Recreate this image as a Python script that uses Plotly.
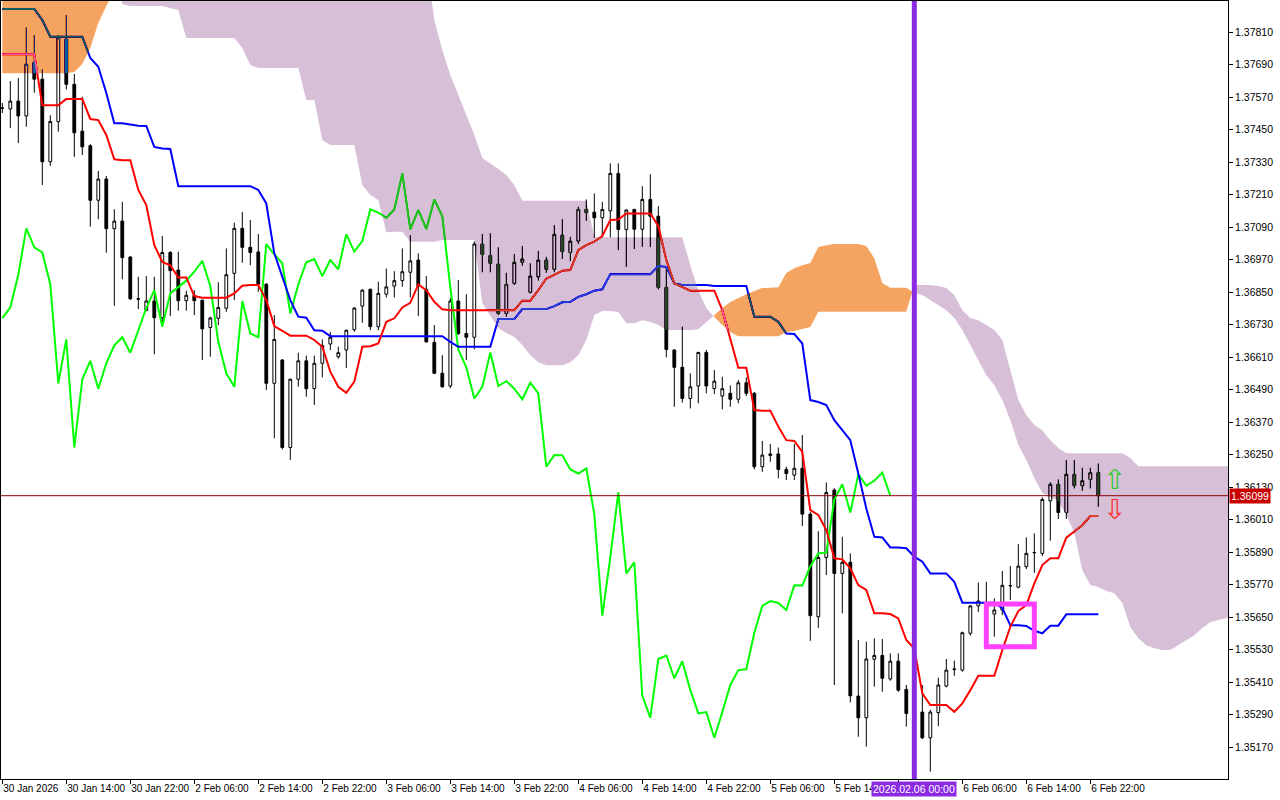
import plotly.graph_objects as go

# ---------------- data (H1 bars, 30 Jan 06:00 .. 6 Feb 23:00) ----------------
tick_pos = [0, 8, 16, 24, 32, 40, 48, 56, 64, 72, 80, 88, 96, 104, 112, 120, 128, 136]
tick_labels = ["30 Jan 2026", "30 Jan 14:00", "30 Jan 22:00", "2 Feb 06:00", "2 Feb 14:00",
               "2 Feb 22:00", "3 Feb 06:00", "3 Feb 14:00", "3 Feb 22:00", "4 Feb 06:00",
               "4 Feb 14:00", "4 Feb 22:00", "5 Feb 06:00", "5 Feb 14:00", "",
               "6 Feb 06:00", "6 Feb 14:00", "6 Feb 22:00"]
marker_bar = 114
marker_label = "2026.02.06 00:00"

price_ticks = [1.37810, 1.37690, 1.37570, 1.37450, 1.37330, 1.37210, 1.37090, 1.36970,
               1.36850, 1.36730, 1.36610, 1.36490, 1.36370, 1.36250, 1.36130, 1.36010,
               1.35890, 1.35770, 1.35650, 1.35530, 1.35410, 1.35290, 1.35170]

open_ = [1.37530, 1.37527, 1.37556, 1.37501, 1.37699, 1.37637, 1.37332, 1.37480, 1.37785, 1.37618,
         1.37445, 1.37391, 1.37190, 1.37268, 1.37085, 1.37113, 1.36980, 1.36826, 1.36783, 1.36818,
         1.36756, 1.36997, 1.36932, 1.36819, 1.36839, 1.36821, 1.36720, 1.36754, 1.36791, 1.36920,
         1.37086, 1.37016, 1.36999, 1.36880, 1.36514, 1.36600, 1.36277, 1.36529, 1.36597, 1.36495,
         1.36588, 1.36659, 1.36612, 1.36637, 1.36712, 1.36799, 1.36861, 1.36723, 1.36843, 1.36873,
         1.36893, 1.36924, 1.36969, 1.36861, 1.36665, 1.36551, 1.36504, 1.36818, 1.36698, 1.36684,
         1.37028, 1.36986, 1.36954, 1.36772, 1.36883, 1.36961, 1.36850, 1.36907, 1.36969, 1.36935,
         1.37061, 1.36997, 1.37039, 1.37156, 1.37146, 1.37125, 1.37151, 1.37289, 1.37082, 1.37156,
         1.37083, 1.37193, 1.37131, 1.36868, 1.36637, 1.36573, 1.36458, 1.36504, 1.36628, 1.36495,
         1.36467, 1.36477, 1.36455, 1.36516, 1.36477, 1.36206, 1.36253, 1.36253, 1.36196, 1.36175,
         1.36200, 1.36031, 1.35652, 1.35871, 1.36120, 1.35812, 1.35853, 1.35359, 1.35279, 1.35495,
         1.35509, 1.35422, 1.35488, 1.35384, 1.35295, 1.35300, 1.35205, 1.35298, 1.35396, 1.35459,
         1.35455, 1.35591, 1.35692, 1.35701, 1.35662, 1.35677, 1.35766, 1.35761, 1.35837, 1.35888,
         1.35886, 1.36080, 1.36141, 1.36037, 1.36178, 1.36136, 1.36159, 1.36184]

high = [1.37549, 1.37630, 1.37641, 1.37828, 1.37800, 1.37673, 1.37504, 1.37800, 1.37874, 1.37656,
        1.37572, 1.37397, 1.37298, 1.37279, 1.37157, 1.37184, 1.36984, 1.36907, 1.36910, 1.36907,
        1.37058, 1.37002, 1.37000, 1.36856, 1.36858, 1.36822, 1.36760, 1.36887, 1.37012, 1.37107,
        1.37147, 1.37117, 1.37065, 1.36884, 1.36766, 1.36603, 1.36531, 1.36627, 1.36616, 1.36616,
        1.36676, 1.36704, 1.36649, 1.36712, 1.36795, 1.36861, 1.36864, 1.36889, 1.36938, 1.36928,
        1.37012, 1.37061, 1.36994, 1.36910, 1.36729, 1.36618, 1.36829, 1.36895, 1.36843, 1.37037,
        1.37065, 1.37068, 1.37016, 1.36922, 1.36991, 1.37021, 1.36957, 1.37003, 1.36981, 1.37098,
        1.37120, 1.37055, 1.37166, 1.37193, 1.37215, 1.37184, 1.37326, 1.37326, 1.37156, 1.37158,
        1.37242, 1.37286, 1.37168, 1.36944, 1.36639, 1.36723, 1.36551, 1.36630, 1.36637, 1.36563,
        1.36538, 1.36506, 1.36526, 1.36536, 1.36482, 1.36301, 1.36290, 1.36277, 1.36206, 1.36290,
        1.36323, 1.36039, 1.35968, 1.36148, 1.36127, 1.35947, 1.35886, 1.35566, 1.35560, 1.35572,
        1.35570, 1.35517, 1.35517, 1.35400, 1.35344, 1.35400, 1.35308, 1.35427, 1.35496, 1.35490,
        1.35597, 1.35695, 1.35778, 1.35781, 1.35720, 1.35821, 1.35839, 1.35920, 1.35945, 1.35960,
        1.36093, 1.36148, 1.36159, 1.36231, 1.36231, 1.36202, 1.36202, 1.36218]

low = [1.37512, 1.37456, 1.37401, 1.37461, 1.37587, 1.37246, 1.37317, 1.37443, 1.37599, 1.37350,
       1.37357, 1.37092, 1.37120, 1.36996, 1.36800, 1.36898, 1.36822, 1.36788, 1.36780, 1.36621,
       1.36729, 1.36762, 1.36782, 1.36782, 1.36766, 1.36600, 1.36612, 1.36729, 1.36778, 1.36821,
       1.36959, 1.36950, 1.36852, 1.36489, 1.36311, 1.36270, 1.36231, 1.36501, 1.36464, 1.36434,
       1.36536, 1.36637, 1.36605, 1.36571, 1.36704, 1.36737, 1.36710, 1.36710, 1.36831, 1.36831,
       1.36870, 1.36831, 1.36762, 1.36664, 1.36548, 1.36498, 1.36496, 1.36692, 1.36600, 1.36639,
       1.36924, 1.36924, 1.36766, 1.36760, 1.36877, 1.36948, 1.36846, 1.36893, 1.36922, 1.36924,
       1.36973, 1.36965, 1.37028, 1.37114, 1.37051, 1.37053, 1.37053, 1.37006, 1.36944, 1.37010,
       1.37018, 1.37017, 1.36861, 1.36610, 1.36427, 1.36442, 1.36421, 1.36440, 1.36477, 1.36474,
       1.36418, 1.36427, 1.36440, 1.36467, 1.36196, 1.36187, 1.36224, 1.36163, 1.36157, 1.36157,
       1.35987, 1.35563, 1.35611, 1.35806, 1.35400, 1.35665, 1.35336, 1.35209, 1.35172, 1.35394,
       1.35375, 1.35416, 1.35375, 1.35246, 1.35241, 1.35200, 1.35080, 1.35248, 1.35391, 1.35434,
       1.35449, 1.35582, 1.35670, 1.35692, 1.35578, 1.35658, 1.35714, 1.35757, 1.35828, 1.35814,
       1.35876, 1.35933, 1.36013, 1.36013, 1.36126, 1.36117, 1.36126, 1.36058]

close = [1.37530, 1.37556, 1.37501, 1.37692, 1.37637, 1.37332, 1.37481, 1.37790, 1.37618, 1.37439,
         1.37387, 1.37190, 1.37268, 1.37085, 1.37113, 1.36978, 1.36826, 1.36825, 1.36818, 1.36756,
         1.36997, 1.36930, 1.36819, 1.36839, 1.36819, 1.36715, 1.36755, 1.36794, 1.36915, 1.37086,
         1.37016, 1.36997, 1.36880, 1.36514, 1.36676, 1.36277, 1.36529, 1.36597, 1.36494, 1.36588,
         1.36654, 1.36684, 1.36627, 1.36710, 1.36792, 1.36858, 1.36723, 1.36846, 1.36870, 1.36893,
         1.36926, 1.36966, 1.36873, 1.36667, 1.36551, 1.36501, 1.36818, 1.36698, 1.36684, 1.37028,
         1.36990, 1.36957, 1.36772, 1.36879, 1.36961, 1.36973, 1.36910, 1.36969, 1.36935, 1.37064,
         1.37000, 1.37039, 1.37156, 1.37144, 1.37125, 1.37156, 1.37289, 1.37082, 1.37154, 1.37083,
         1.37193, 1.37131, 1.36868, 1.36639, 1.36573, 1.36458, 1.36501, 1.36628, 1.36504, 1.36522,
         1.36494, 1.36455, 1.36516, 1.36477, 1.36206, 1.36249, 1.36248, 1.36196, 1.36181, 1.36200,
         1.36031, 1.35656, 1.35871, 1.36111, 1.35812, 1.35853, 1.35360, 1.35279, 1.35496, 1.35509,
         1.35425, 1.35488, 1.35381, 1.35295, 1.35300, 1.35205, 1.35300, 1.35400, 1.35455, 1.35458,
         1.35593, 1.35692, 1.35710, 1.35703, 1.35677, 1.35768, 1.35767, 1.35839, 1.35886, 1.35889,
         1.36085, 1.36141, 1.36037, 1.36178, 1.36136, 1.36154, 1.36184, 1.36099]

tenkan = [1.37729, 1.37729, 1.37729, 1.37729, 1.37729, 1.37541, 1.37541, 1.37541, 1.37564, 1.37564,
          1.37564, 1.37490, 1.37486, 1.37431, 1.37341, 1.37338, 1.37338, 1.37228, 1.37172, 1.37024,
          1.36962, 1.36950, 1.36905, 1.36905, 1.36836, 1.36830, 1.36830, 1.36830, 1.36830, 1.36846,
          1.36874, 1.36877, 1.36877, 1.36821, 1.36725, 1.36708, 1.36690, 1.36690, 1.36690, 1.36674,
          1.36649, 1.36557, 1.36501, 1.36479, 1.36520, 1.36649, 1.36651, 1.36661, 1.36741, 1.36754,
          1.36794, 1.36811, 1.36879, 1.36858, 1.36815, 1.36787, 1.36784, 1.36784, 1.36784, 1.36784,
          1.36784, 1.36784, 1.36784, 1.36784, 1.36784, 1.36819, 1.36819, 1.36858, 1.36901, 1.36914,
          1.36930, 1.36932, 1.37006, 1.37024, 1.37037, 1.37058, 1.37117, 1.37119, 1.37141, 1.37141,
          1.37141, 1.37141, 1.37095, 1.36969, 1.36883, 1.36870, 1.36856, 1.36856, 1.36856, 1.36856,
          1.36784, 1.36674, 1.36571, 1.36571, 1.36415, 1.36413, 1.36413, 1.36354, 1.36304, 1.36301,
          1.36261, 1.36046, 1.36028, 1.35972, 1.35868, 1.35864, 1.35831, 1.35769, 1.35751, 1.35665,
          1.35665, 1.35662, 1.35646, 1.35566, 1.35535, 1.35369, 1.35326, 1.35326, 1.35326, 1.35301,
          1.35332, 1.35381, 1.35434, 1.35434, 1.35434, 1.35529, 1.35615, 1.35673, 1.35695, 1.35775,
          1.35843, 1.35868, 1.35868, 1.35944, 1.35966, 1.35990, 1.36024, 1.36024]

kijun = [1.37896, 1.37896, 1.37896, 1.37896, 1.37896, 1.37855, 1.37794, 1.37794, 1.37794, 1.37794,
         1.37794, 1.37715, 1.37683, 1.37586, 1.37474, 1.37474, 1.37470, 1.37465, 1.37464, 1.37387,
         1.37381, 1.37379, 1.37242, 1.37242, 1.37242, 1.37242, 1.37242, 1.37242, 1.37242, 1.37242,
         1.37242, 1.37242, 1.37228, 1.37178, 1.36994, 1.36907, 1.36821, 1.36760, 1.36756, 1.36710,
         1.36708, 1.36688, 1.36688, 1.36688, 1.36688, 1.36688, 1.36688, 1.36688, 1.36688, 1.36688,
         1.36688, 1.36688, 1.36688, 1.36688, 1.36688, 1.36688, 1.36667, 1.36649, 1.36649, 1.36649,
         1.36649, 1.36649, 1.36751, 1.36751, 1.36751, 1.36788, 1.36788, 1.36788, 1.36788, 1.36799,
         1.36813, 1.36815, 1.36833, 1.36843, 1.36856, 1.36861, 1.36917, 1.36917, 1.36917, 1.36917,
         1.36917, 1.36917, 1.36947, 1.36944, 1.36883, 1.36877, 1.36877, 1.36877, 1.36877, 1.36873,
         1.36873, 1.36873, 1.36873, 1.36873, 1.36760, 1.36760, 1.36760, 1.36741, 1.36698, 1.36696,
         1.36661, 1.36452, 1.36445, 1.36434, 1.36378, 1.36341, 1.36304, 1.36181, 1.36052, 1.35947,
         1.35945, 1.35908, 1.35908, 1.35905, 1.35874, 1.35855, 1.35812, 1.35812, 1.35812, 1.35781,
         1.35704, 1.35704, 1.35704, 1.35704, 1.35704, 1.35684, 1.35621, 1.35621, 1.35618, 1.35600,
         1.35591, 1.35619, 1.35619, 1.35661, 1.35661, 1.35661, 1.35661, 1.35661]

# Senkou spans as plotted (already shifted 26 bars ahead), bars 0..154
span_a = [1.38077, 1.38077, 1.38077, 1.38077, 1.38077, 1.38077, 1.38077, 1.38077, 1.38077, 1.38077,
          1.38077, 1.38077, 1.38077, 1.38077, 1.38077, 1.37914, 1.37907, 1.37907, 1.37907, 1.37907,
          1.37907, 1.37899, 1.37892, 1.37789, 1.37789, 1.37789, 1.37789, 1.37789, 1.37789, 1.37789,
          1.37752, 1.37689, 1.37678, 1.37678, 1.37678, 1.37678, 1.37678, 1.37678, 1.37560, 1.37560,
          1.37412, 1.37394, 1.37394, 1.37394, 1.37394, 1.37246, 1.37209, 1.37191, 1.37072, 1.37074,
          1.37074, 1.37037, 1.37037, 1.37037, 1.37037, 1.37043, 1.37043, 1.37043, 1.37043, 1.37043,
          1.36810, 1.36766, 1.36718, 1.36700, 1.36685, 1.36655, 1.36618, 1.36592, 1.36581, 1.36581,
          1.36581, 1.36592, 1.36618, 1.36674, 1.36766, 1.36781, 1.36781, 1.36777, 1.36736, 1.36736,
          1.36747, 1.36740, 1.36729, 1.36711, 1.36711, 1.36711, 1.36711, 1.36714, 1.36740, 1.36766,
          1.36792, 1.36814, 1.36829, 1.36843, 1.36855, 1.36866, 1.36867, 1.36869, 1.36921, 1.36939,
          1.36950, 1.36958, 1.37017, 1.37024, 1.37028, 1.37028, 1.37028, 1.37028, 1.37021, 1.36976,
          1.36884, 1.36867, 1.36867, 1.36867, 1.36847, 1.36840, 1.36821, 1.36803, 1.36784, 1.36755,
          1.36711, 1.36655, 1.36600, 1.36544, 1.36507, 1.36452, 1.36378, 1.36286, 1.36231, 1.36164,
          1.36109, 1.36094, 1.36079, 1.36028, 1.35961, 1.35824, 1.35769, 1.35762, 1.35747, 1.35739,
          1.35703, 1.35614, 1.35573, 1.35547, 1.35536, 1.35529, 1.35529, 1.35547, 1.35566, 1.35584,
          1.35610, 1.35632, 1.35640, 1.35647, 1.35647]

span_b = [1.37659, 1.37659, 1.37659, 1.37659, 1.37659, 1.37659, 1.37659, 1.37659, 1.37659, 1.37663,
          1.37693, 1.37752, 1.37844, 1.37907, 1.37959, 1.38077, 1.38077, 1.38077, 1.38077, 1.38077,
          1.38077, 1.38077, 1.38077, 1.38077, 1.38077, 1.38077, 1.38077, 1.38077, 1.38077, 1.38077,
          1.38077, 1.38077, 1.38077, 1.38077, 1.38077, 1.38077, 1.38077, 1.38077, 1.38077, 1.38077,
          1.38077, 1.38077, 1.38077, 1.38077, 1.38077, 1.38077, 1.38077, 1.38077, 1.38077, 1.38077,
          1.38077, 1.38077, 1.38077, 1.38077, 1.37855, 1.37744, 1.37652, 1.37578, 1.37504, 1.37431,
          1.37346, 1.37327, 1.37305, 1.37283, 1.37246, 1.37188, 1.37188, 1.37188, 1.37188, 1.37188,
          1.37188, 1.37188, 1.37188, 1.37188, 1.37053, 1.37053, 1.37053, 1.37053, 1.37053, 1.37053,
          1.37053, 1.37053, 1.37053, 1.37053, 1.37053, 1.37053, 1.36950, 1.36858, 1.36792, 1.36759,
          1.36729, 1.36703, 1.36688, 1.36688, 1.36688, 1.36688, 1.36688, 1.36688, 1.36703, 1.36707,
          1.36714, 1.36722, 1.36778, 1.36778, 1.36778, 1.36778, 1.36778, 1.36778, 1.36778, 1.36778,
          1.36778, 1.36778, 1.36778, 1.36778, 1.36877, 1.36877, 1.36877, 1.36873, 1.36866, 1.36840,
          1.36784, 1.36755, 1.36747, 1.36729, 1.36711, 1.36674, 1.36563, 1.36452, 1.36397, 1.36360,
          1.36341, 1.36304, 1.36275, 1.36256, 1.36256, 1.36256, 1.36256, 1.36256, 1.36256, 1.36256,
          1.36256, 1.36238, 1.36208, 1.36208, 1.36208, 1.36208, 1.36208, 1.36208, 1.36208, 1.36208,
          1.36208, 1.36208, 1.36208, 1.36208, 1.36208]

# drawn objects
box_bars = [123, 129]
box_prices = [1.35541, 1.35699]
arrow_bar = 139
arrow_up_price = 1.36159
arrow_down_price = 1.36051

# ---------------- figure ----------------
bars = list(range(len(close)))
chikou_x = bars[:len(close) - 26]
chikou_y = close[26:]
bid = close[-1]

X_RANGE = [-0.1625, 153.21]
Y_RANGE = [1.350529, 1.379256]

fig = go.Figure()

# opaque white backdrop inside the plot group (needed for the difference-blended cloud)
fig.add_trace(go.Bar(x=[(X_RANGE[0] + X_RANGE[1]) / 2], y=[Y_RANGE[1] - Y_RANGE[0] + 0.01],
                     base=[Y_RANGE[0] - 0.005], width=[X_RANGE[1] - X_RANGE[0] + 4],
                     marker=dict(color="white", line=dict(width=0)),
                     hoverinfo="skip", showlegend=False))

fig.add_trace(go.Candlestick(
    x=bars, open=open_, high=high, low=low, close=close,
    increasing=dict(fillcolor="white", line=dict(color="black", width=1)),
    decreasing=dict(fillcolor="black", line=dict(color="black", width=1)),
    whiskerwidth=0, hoverinfo="skip", showlegend=False))

fig.add_trace(go.Scatter(x=chikou_x, y=chikou_y, mode="lines",
                         line=dict(color="#00FF00", width=2), hoverinfo="skip", showlegend=False))
fig.add_trace(go.Scatter(x=bars, y=kijun, mode="lines",
                         line=dict(color="#0000FF", width=2), hoverinfo="skip", showlegend=False))
fig.add_trace(go.Scatter(x=bars, y=tenkan, mode="lines",
                         line=dict(color="#FF0000", width=2), hoverinfo="skip", showlegend=False))

# cloud: split into runs of equal sign (A>B -> up kumo, A<B -> down kumo)
cx = list(range(len(span_a)))
px, pa, pb = [], [], []
for i in range(len(cx)):
    if i > 0:
        d0 = span_a[i - 1] - span_b[i - 1]
        d1 = span_a[i] - span_b[i]
        if d0 * d1 < 0:
            t = d0 / (d0 - d1)
            xc = cx[i - 1] + t * (cx[i] - cx[i - 1])
            yc = span_a[i - 1] + t * (span_a[i] - span_a[i - 1])
            px.append(xc); pa.append(yc); pb.append(yc)
    px.append(cx[i]); pa.append(span_a[i]); pb.append(span_b[i])

runs = []
cur, sign = [], 0
for j in range(len(px)):
    d = pa[j] - pb[j]
    s = 1 if d > 0 else (-1 if d < 0 else 0)
    if s == 0:
        cur.append(j)
        if sign != 0:
            runs.append((sign, cur))
        cur, sign = [j], 0
        continue
    if sign == 0:
        sign = s
    cur.append(j)
if sign != 0 and len(cur) > 1:
    runs.append((sign, cur))

# colours are XOR/difference partners of SandyBrown and Thistle on white
UP_FILL = "rgb(11,91,159)"
DOWN_FILL = "rgb(39,64,39)"
for s, idx in runs:
    xs = [px[j] for j in idx] + [px[j] for j in reversed(idx)]
    ys = [pa[j] for j in idx] + [pb[j] for j in reversed(idx)]
    fig.add_trace(go.Scatter(x=xs, y=ys, mode="lines", fill="toself",
                             fillcolor=UP_FILL if s > 0 else DOWN_FILL,
                             line=dict(width=0), hoverinfo="skip", showlegend=False))

FONT = "Liberation Sans"
fig.update_layout(
    width=1280, height=800,
    margin=dict(l=1, r=52, t=1, b=21, autoexpand=False),
    paper_bgcolor="white", plot_bgcolor="white",
    showlegend=False, hovermode=False,
    font=dict(family=FONT, size=10.5, color="black"),
    boxgap=0.5,
    xaxis=dict(range=X_RANGE, type="linear", rangeslider=dict(visible=False),
               showgrid=False, zeroline=False, automargin=False,
               showline=True, linecolor="black", linewidth=1, mirror=True,
               tickmode="array", tickvals=tick_pos, ticktext=tick_labels,
               ticks="outside", ticklen=4, tickcolor="black", tickangle=0,
               ticklabelposition="outside right",
               tickfont=dict(family=FONT, size=10, color="black")),
    yaxis=dict(range=Y_RANGE, side="right", showgrid=False, zeroline=False, automargin=False,
               showline=True, linecolor="black", linewidth=1, mirror=True,
               tickmode="array", tickvals=price_ticks,
               ticktext=["%.5f" % v for v in price_ticks],
               ticks="outside", ticklen=4, tickcolor="black",
               tickfont=dict(family=FONT, size=10.5, color="black")),
)

fig.add_shape(type="line", xref="paper", x0=0, x1=1, yref="y", y0=bid, y1=bid,
              line=dict(color="#8c0000", width=1), layer="above")
fig.add_shape(type="line", xref="x", x0=marker_bar, x1=marker_bar, yref="paper", y0=0, y1=1,
              line=dict(color="#8A2BE2", width=5), layer="above")
fig.add_shape(type="rect", xref="x", x0=box_bars[0], x1=box_bars[1], yref="y",
              y0=box_prices[0], y1=box_prices[1],
              line=dict(color="#FF40FF", width=5), fillcolor="rgba(0,0,0,0)", layer="above")

fig.add_annotation(xref="paper", x=1, xanchor="left", xshift=1, yref="y", y=bid,
                   text="%.5f" % bid, showarrow=False, bgcolor="#C80000",
                   font=dict(family=FONT, size=10.5, color="white"), borderpad=1)
fig.add_annotation(xref="x", x=marker_bar, yref="paper", y=0, yanchor="top", yshift=-2,
                   text=marker_label, showarrow=False, bgcolor="#8A2BE2",
                   font=dict(family=FONT, size=10.5, color="white"), borderpad=1)
fig.add_annotation(xref="x", x=arrow_bar, yref="y", y=arrow_up_price, text="\u21e7",
                   showarrow=False, height=20,
                   font=dict(family="DejaVu Sans", size=28, color="#33CC33"))
fig.add_annotation(xref="x", x=arrow_bar, yref="y", y=arrow_down_price, text="\u21e9",
                   showarrow=False, height=20,
                   font=dict(family="DejaVu Sans", size=28, color="#FF3333"))

page_js = ("document.body.style.margin='0';document.body.style.overflow='hidden';"
           "var gd=document.getElementById('{plot_id}');"
           "gd.querySelectorAll('path.js-fill').forEach(function(p){p.style.mixBlendMode='difference';});")

fig.write_html("out.html", post_script=page_js, config={"displayModeBar": False})
